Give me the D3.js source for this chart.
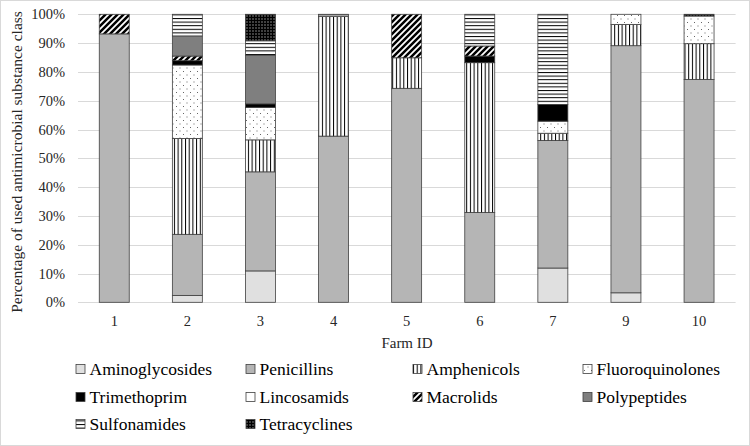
<!DOCTYPE html>
<html><head><meta charset="utf-8">
<script src="https://cdn.jsdelivr.net/npm/d3@7"></script>
<style>body{margin:0;background:#fff}svg{display:block;font-family:"Liberation Serif","Times New Roman",serif}</style>
</head><body><svg id="c" width="750" height="446"></svg>
<script>
const farms = ["1","2","3","4","5","6","7","9","10"];
const seriesNames = ["Aminoglycosides","Penicillins","Amphenicols","Fluoroquinolones","Trimethoprim","Lincosamids","Macrolids","Polypeptides","Sulfonamides","Tetracyclines"];
const aminoglycosides = [0, 2.4, 10.9, 0, 0, 0, 11.9, 3.3, 0];
const penicillins     = [93.2, 21.2, 34.4, 57.7, 74.3, 31.2, 44.3, 85.8, 77.4];
const amphenicols     = [0, 33.3, 11.1, 41.5, 10.6, 52.0, 2.5, 7.4, 12.4];
const fluoroquinolones= [0, 25.5, 11.3, 0, 0, 0, 4.2, 3.5, 9.6];
const trimethoprim    = [0, 1.5, 1.2, 0, 0, 2.3, 5.8, 0, 0];
const lincosamids     = [0, 0, 0, 0, 0, 0, 0, 0, 0];
const macrolids       = [6.8, 1.6, 0, 0, 15.1, 3.5, 0, 0, 0];
const polypeptides    = [0, 7.0, 16.9, 0, 0, 0, 0, 0, 0];
const sulfonamides    = [0, 7.5, 5.0, 0.8, 0, 11.0, 31.3, 0, 0];
const tetracyclines   = [0, 0, 9.2, 0, 0, 0, 0, 0, 0.6];
const yTicks = [0,10,20,30,40,50,60,70,80,90,100];

const seriesValues = [aminoglycosides, penicillins, amphenicols, fluoroquinolones, trimethoprim, lincosamids, macrolids, polypeptides, sulfonamides, tetracyclines];
const table = farms.map((f,i)=>{const o={farm:f}; seriesNames.forEach((s,j)=>o[s]=seriesValues[j][i]); return o;});

const FONT = "Liberation Serif, Times New Roman, serif";
const svg = d3.select("#c");
svg.append("rect").attr("x",0.5).attr("y",0.5).attr("width",749).attr("height",445).attr("fill","#fff").attr("stroke","#d9d9d9");

const defs = svg.append("defs");
function pat(id,w,h){return defs.append("pattern").attr("id",id).attr("patternUnits","userSpaceOnUse").attr("width",w).attr("height",h);}
let p = pat("pAmph",3.7,10); p.append("rect").attr("width",3.7).attr("height",10).attr("fill","#fff"); p.append("rect").attr("x",0).attr("width",1).attr("height",10).attr("fill","#000");
p = pat("pFluo",7,7); p.append("rect").attr("width",7).attr("height",7).attr("fill","#fff"); p.append("rect").attr("x",1).attr("y",1).attr("width",1).attr("height",1).attr("fill","#666"); p.append("rect").attr("x",4.5).attr("y",4.5).attr("width",1).attr("height",1).attr("fill","#666");
p = pat("pMacro",6,6); p.append("rect").attr("width",6).attr("height",6).attr("fill","#fff");
p.append("path").attr("d","M-1,7 L7,-1 M-4,4 L4,-4 M2,10 L10,2").attr("stroke","#000").attr("stroke-width",2.5);
p = pat("pSulf",10,3.6); p.append("rect").attr("width",10).attr("height",3.6).attr("fill","#fff"); p.append("rect").attr("y",0).attr("width",10).attr("height",1).attr("fill","#000");
p = pat("pTetra",3,3); p.append("rect").attr("width",3).attr("height",3).attr("fill","#000"); p.append("rect").attr("x",0.5).attr("y",0.5).attr("width",1).attr("height",1).attr("fill","#fff");

const fills = {
  "Aminoglycosides":"#e0e0e0","Penicillins":"#b5b5b5","Amphenicols":"url(#pAmph)","Fluoroquinolones":"url(#pFluo)",
  "Trimethoprim":"#000","Lincosamids":"#fff","Macrolids":"url(#pMacro)","Polypeptides":"#7f7f7f",
  "Sulfonamides":"url(#pSulf)","Tetracyclines":"url(#pTetra)"};

const x = d3.scaleBand().domain(farms).range([77.7,735.6]).paddingInner(0.59).paddingOuter(0.295);
const y = d3.scaleLinear().domain([0,100]).range([302.3,14.3]);

// gridlines
svg.append("g").selectAll("line").data(yTicks).join("line")
  .attr("x1",78).attr("x2",735.6).attr("y1",d=>Math.round(y(d))+0.5).attr("y2",d=>Math.round(y(d))+0.5)
  .attr("stroke","#d9d9d9").attr("stroke-width",1);

// y axis labels
const yAxis = d3.axisLeft(y).tickValues(yTicks).tickFormat(d=>d+"%").tickSize(0).tickPadding(0);
const gy = svg.append("g").attr("transform","translate(65,0)").call(yAxis);
gy.select(".domain").remove();
gy.attr("font-family",FONT);
gy.selectAll("text").attr("font-size",14.5).attr("font-family",FONT).attr("fill","#262626");

// x axis labels
const xAxis = d3.axisBottom(x).tickSize(0).tickPadding(0);
const gx = svg.append("g").attr("transform","translate(0,315.5)").call(xAxis);
gx.select(".domain").remove();
gx.attr("font-family",FONT);
gx.selectAll("text").attr("font-size",14.5).attr("font-family",FONT).attr("fill","#262626");

const stack = d3.stack().keys(seriesNames)(table);
svg.append("g").selectAll("g").data(stack).join("g").attr("fill",d=>fills[d.key])
  .selectAll("rect").data(d=>d.filter(s=>s[1]-s[0]>0)).join("rect")
  .attr("x",d=>x(d.data.farm)).attr("width",x.bandwidth())
  .attr("y",d=>y(d[1])).attr("height",d=>y(d[0])-y(d[1]))
  .attr("stroke","#404040").attr("stroke-width",0.8);

// axis titles
svg.append("text").attr("x",407).attr("y",348).attr("text-anchor","middle").attr("font-size",15).attr("fill","#262626").text("Farm ID");
svg.append("text").attr("transform","translate(22,162) rotate(-90)").attr("text-anchor","middle").attr("font-size",15.5).attr("fill","#262626").text("Percentage of used antimicrobial substance class");

// legend
const colX = [76,246,413,583], rowY = [369,397,424];
const lg = svg.append("g").selectAll("g").data(seriesNames).join("g")
  .attr("transform",(d,i)=>`translate(${colX[i%4]},${rowY[Math.floor(i/4)]})`);
lg.append("rect").attr("x",0).attr("y",-4.5).attr("width",9).attr("height",9).attr("fill",d=>fills[d]).attr("stroke","#404040").attr("stroke-width",0.8);
lg.append("text").attr("x",13.5).attr("y",6).attr("font-size",17.5).attr("fill","#000").text(d=>d);
</script></body></html>
